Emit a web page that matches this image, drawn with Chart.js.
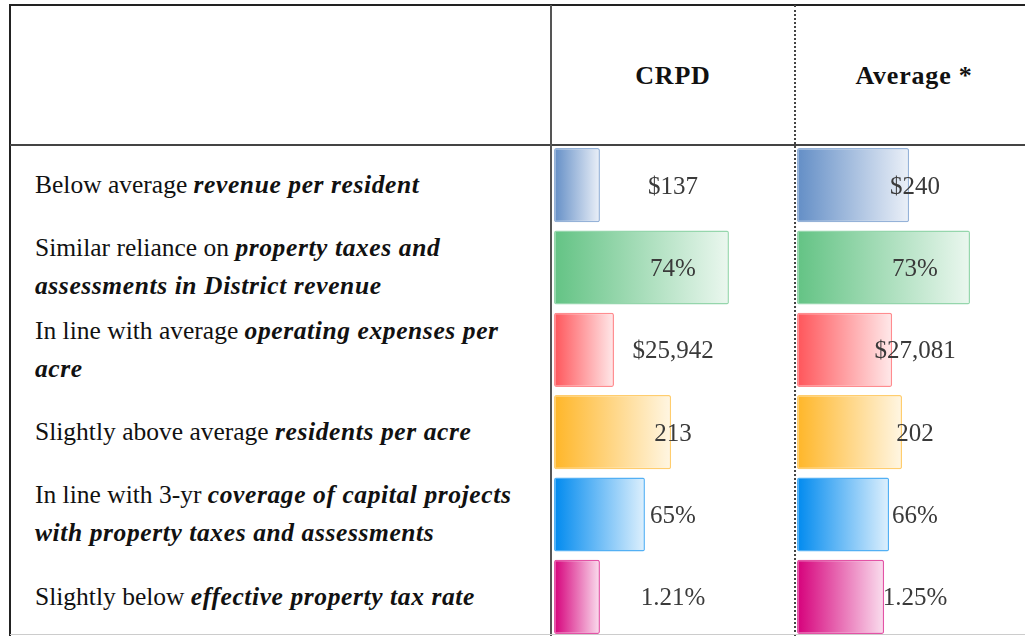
<!DOCTYPE html>
<html>
<head>
<meta charset="utf-8">
<script src="https://cdn.jsdelivr.net/npm/chart.js@4.4.1/dist/chart.umd.min.js"></script>
<style>
    html, body { margin: 0; padding: 0; background: #fff; }
    body { width: 1025px; height: 636px; overflow: hidden; position: relative; font-family: 'Liberation Serif', 'Times New Roman', serif; color: #111; }
    .line { position: absolute; }
    .head { position: absolute; top: 1px; height: 150px; line-height: 150px; font-weight: bold; font-size: 26px; letter-spacing: 0.8px; text-align: center; }
    #rows { position: absolute; left: 35px; top: 144px; width: 515px; }
    .row { height: 82.3px; display: flex; align-items: center; font-size: 25.5px; line-height: 38px; white-space: nowrap; }
    .row i { letter-spacing: 0.6px; }
    .chartBox { position: absolute; top: 144px; height: 494px; }
</style>
</head>
<body>
<div class="line" style="left:9px; top:4px; width:1016px; height:2px; background:#222;"></div>
<div class="line" style="left:9px; top:4px; width:2px; height:632px; background:#222;"></div>
<div class="line" style="left:10px; top:144px; width:1015px; height:2px; background:#444;"></div>
<div class="line" style="left:550px; top:5px; width:2px; height:631px; background:#555;"></div>
<div class="line" style="left:794px; top:5px; width:0; height:631px; border-left:2px dotted #444;"></div>
<div class="line" style="left:10px; top:634px; width:1015px; height:1px; background:#ccc;"></div>

<div class="head" style="left:552px; width:242px;">CRPD</div>
<div class="head" style="left:796px; width:236px;">Average *</div>

<div id="rows"></div>

<div class="chartBox" style="left:554px; width:238px;"><canvas id="crpdChart"></canvas></div>
<div class="chartBox" style="left:797px; width:236px;"><canvas id="avgChart"></canvas></div>

<script>
// Row descriptions (plain part, emphasised part)
const rowText = [
    'Below average <b><i>revenue per resident</i></b>',
    'Similar reliance on <b><i>property taxes and<br>assessments in District revenue</i></b>',
    'In line with average <b><i>operating expenses per<br>acre</i></b>',
    'Slightly above average <b><i>residents per acre</i></b>',
    'In line with 3-yr <b><i>coverage of capital projects<br>with property taxes and assessments</i></b>',
    'Slightly below <b><i>effective property tax rate</i></b>'
];

// Value labels shown in each cell
const crpdLabels = ['$137', '74%', '$25,942', '213', '65%', '1.21%'];
const avgLabels = ['$240', '73%', '$27,081', '202', '66%', '1.25%'];

// Data bar fill (% of cell width)
const crpdFill = [19.3, 73.5, 25.2, 49.2, 38.2, 19.3];
const avgFill = [47.5, 73.3, 40.3, 44.5, 39.0, 36.9];

// Excel data bar colours, one per row
const barColors = ['#638EC6', '#63C384', '#FF555A', '#FFB628', '#008AEF', '#D6007B'];

document.getElementById('rows').innerHTML = rowText
    .map(t => '<div class="row"><div>' + t + '</div></div>')
    .join('');

function hexToRgb(hex) {
    const n = parseInt(hex.slice(1), 16);
    return [(n >> 16) & 255, (n >> 8) & 255, n & 255];
}

function tint(hex, amount, alpha) {
    const c = hexToRgb(hex).map(v => Math.round(v + (255 - v) * amount));
    return 'rgba(' + c.join(',') + ',' + (alpha === undefined ? 1 : alpha) + ')';
}

// Left-to-right fade like Excel gradient data bars
function barGradient(context) {
    const chart = context.chart;
    const color = barColors[context.dataIndex];
    const area = chart.chartArea;
    if (!area || !chart.scales.x) return color;
    const x0 = chart.scales.x.getPixelForValue(0);
    const x1 = chart.scales.x.getPixelForValue(context.raw);
    const g = chart.ctx.createLinearGradient(x0, 0, x1, 0);
    g.addColorStop(0, color);
    g.addColorStop(1, tint(color, 0.87));
    return g;
}

const valueLabels = {
    id: 'valueLabels',
    afterDatasetsDraw(chart, args, opts) {
        const ctx = chart.ctx;
        const meta = chart.getDatasetMeta(0);
        const cx = (chart.chartArea.left + chart.chartArea.right) / 2;
        ctx.save();
        ctx.font = '25px "Liberation Serif", serif';
        ctx.fillStyle = '#3a3a3a';
        ctx.textAlign = 'center';
        ctx.textBaseline = 'middle';
        meta.data.forEach((bar, i) => {
            ctx.fillText(opts.labels[i], cx, bar.y + 2);
        });
        ctx.restore();
    }
};

function makeChart(id, fill, labels) {
    new Chart(document.getElementById(id), {
        type: 'bar',
        data: {
            labels: rowText.map((t, i) => 'row' + i),
            datasets: [{
                data: fill,
                backgroundColor: barGradient,
                borderColor: barColors.map(c => tint(c, 0.25, 0.9)),
                borderWidth: 1.5,
                borderSkipped: false,
                borderRadius: 2,
                categoryPercentage: 0.9,
                barPercentage: 1.0
            }]
        },
        options: {
            indexAxis: 'y',
            responsive: true,
            maintainAspectRatio: false,
            animation: false,
            layout: { padding: 0 },
            scales: {
                x: { display: false, min: 0, max: 100 },
                y: { display: false }
            },
            plugins: {
                legend: { display: false },
                tooltip: { enabled: false },
                valueLabels: { labels: labels }
            }
        },
        plugins: [valueLabels]
    });
}

makeChart('crpdChart', crpdFill, crpdLabels);
makeChart('avgChart', avgFill, avgLabels);
</script>
</body>
</html>
